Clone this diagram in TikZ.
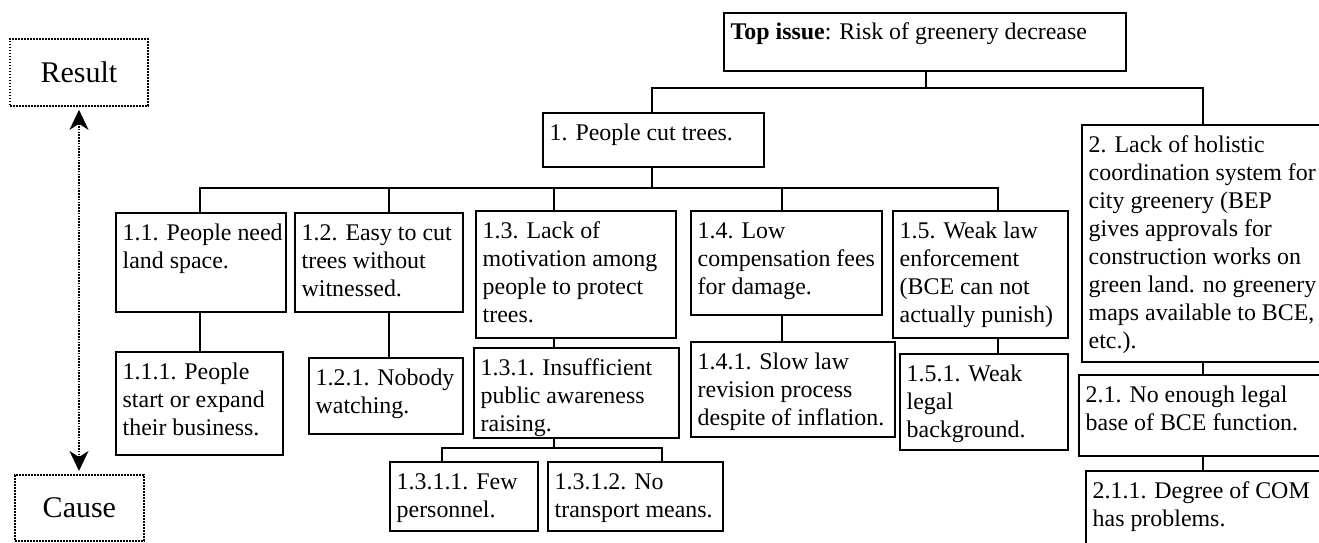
\documentclass[tikz,border=0pt]{standalone}
\usepackage{fontspec}
\setmainfont{Liberation Serif}
\usetikzlibrary{arrows.meta}

% box with its top-left corner at (#2,#3) and bottom-right at (#4,#5); text set from the top-left
\newcommand\tbox[6]{%
  \node[cell, minimum width={#4pt-#2pt}, minimum height={#5pt-#3pt}, anchor=north west] (#1) at (#2,#3) {};
  \node[celltext, anchor=north west] (#1-t) at ([xshift=6.5pt, yshift=-7.2pt]#1.north west) {\strut #6};
}

\begin{document}
\begin{tikzpicture}[x=1pt, y=-1pt,
  cell/.style={draw, line width=1.8pt, inner sep=0pt, outer sep=0pt},
  celltext/.style={inner sep=0pt, align=left, font=\fontsize{23.9}{28}\selectfont},
  link/.style={line width=1.8pt},
  legend/.style={draw, line width=1.8pt, dash pattern=on 1.6pt off 1.4pt, inner sep=0pt,
    font=\fontsize{30}{34}\selectfont},
  tipshape/.tip={Stealth[length=20pt,width=19pt,inset=6pt]},
  axis/.style={line width=1.5pt, dash pattern=on 1.5pt off 1.3pt, tipshape-tipshape}]
\useasboundingbox (0,0) rectangle (1319,543);
\clip (0,0) rectangle (1319,543);

% cause / result scale
\node[legend, minimum width=138pt, minimum height=67pt, anchor=north west] (res) at (9,38) {Result};
\node[legend, minimum width=129pt, minimum height=66pt, anchor=north west] (cau) at (14,474) {Cause};
\coordinate (ax) at (79,0);
\draw[axis] ([yshift=-3pt]ax |- res.south) -- ([yshift=3pt]ax |- cau.north);

% problem boxes
\tbox{top}{724}{13}{1126}{71}{\textbf{Top issue}: Risk of greenery decrease}
\tbox{n1}{543}{113}{764}{167}{1. People cut trees.}
\tbox{n2}{1082}{125}{1324}{362}{2. Lack of holistic\\coordination system for\\city greenery (BEP\\gives approvals for\\construction works on\\green land. no greenery\\maps available to BCE,\\etc.).}
\tbox{n11}{116}{213}{286}{312}{1.1. People need\\land space.}
\tbox{n12}{295}{213}{463}{312}{1.2. Easy to cut\\trees without\\witnessed.}
\tbox{n13}{476}{211}{676}{338}{1.3. Lack of\\motivation among\\people to protect\\trees.}
\tbox{n14}{691}{211}{882}{315}{1.4. Low\\compensation fees\\for damage.}
\tbox{n15}{893}{211}{1068}{338}{1.5. Weak law\\enforcement\\(BCE can not\\actually punish)}
\tbox{n111}{116}{352}{283}{455}{1.1.1. People\\start or expand\\their business.}
\tbox{n121}{309}{358}{463}{434}{1.2.1. Nobody\\watching.}
\tbox{n131}{474}{348}{679}{438}{1.3.1. Insufficient\\public awareness\\raising.}
\tbox{n141}{691}{342}{895}{437}{1.4.1. Slow law\\revision process\\despite of inflation.}
\tbox{n151}{900}{354}{1068}{450}{1.5.1. Weak\\legal\\background.}
\tbox{n21}{1079}{375}{1325}{456}{2.1. No enough legal\\base of BCE function.}
\tbox{n211}{1086}{471}{1325}{560}{2.1.1. Degree of COM\\has problems.}
\tbox{n1311}{390}{462}{538}{531}{1.3.1.1. Few\\personnel.}
\tbox{n1312}{548}{462}{723}{531}{1.3.1.2. No\\transport means.}

% columns where the connectors run, and the rows of the horizontal bars
\coordinate (k0) at (926,0);
\coordinate (k1) at (652,0);
\coordinate (k2) at (1203,0);
\coordinate (k11) at (200,0);
\coordinate (k12) at (389,0);
\coordinate (k13) at (554,0);
\coordinate (k14) at (782,0);
\coordinate (k15) at (998,0);
\coordinate (k1311) at (442,0);
\coordinate (k1312) at (662,0);
\coordinate (bar0) at (0,88);
\coordinate (bar1) at (0,188);
\coordinate (bar2) at (0,448);

% top issue to its two causes
\draw[link] (k0 |- top.south) -- (k0 |- bar0);
\draw[link] (k1 |- n1.north) -- (k1 |- bar0) -- (k2 |- bar0) -- (k2 |- n2.north);

% cause 1 to its five sub-causes
\draw[link] (k1 |- n1.south) -- (k1 |- bar1);
\draw[link] (k11 |- n11.north) -- (k11 |- bar1) -- (k15 |- bar1) -- (k15 |- n15.north);
\draw[link] (k12 |- bar1) -- (k12 |- n12.north);
\draw[link] (k13 |- bar1) -- (k13 |- n13.north);
\draw[link] (k14 |- bar1) -- (k14 |- n14.north);

% deeper levels
\draw[link] (k11 |- n11.south) -- (k11 |- n111.north);
\draw[link] (k12 |- n12.south) -- (k12 |- n121.north);
\draw[link] (k13 |- n13.south) -- (k13 |- n131.north);
\draw[link] (k14 |- n14.south) -- (k14 |- n141.north);
\draw[link] (k15 |- n15.south) -- (k15 |- n151.north);
\draw[link] (k13 |- n131.south) -- (k13 |- bar2);
\draw[link] (k1311 |- n1311.north) -- (k1311 |- bar2) -- (k1312 |- bar2) -- (k1312 |- n1312.north);
\draw[link] (k2 |- n2.south) -- (k2 |- n21.north);
\draw[link] (k2 |- n21.south) -- (k2 |- n211.north);
\end{tikzpicture}
\end{document}
